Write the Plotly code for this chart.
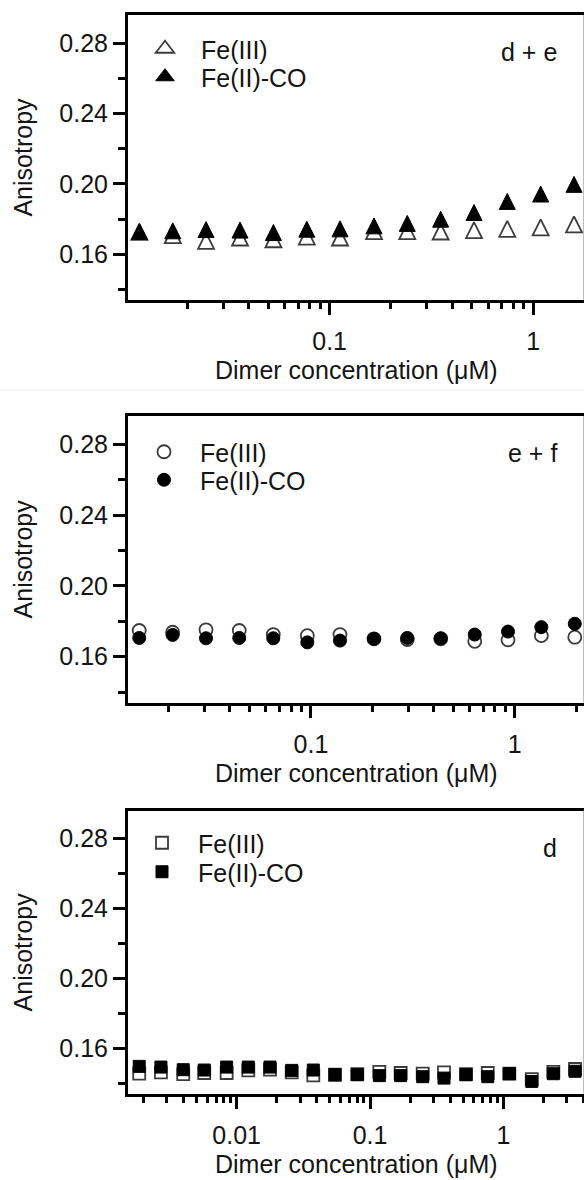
import plotly.graph_objects as go

# ---------------- data ----------------
# Panel 1 (d + e), triangles
x1 = [0.01164, 0.01698, 0.02473, 0.03631, 0.05297, 0.07726, 0.1125, 0.1652,
      0.2406, 0.3509, 0.5117, 0.7451, 1.087, 1.585]
fe3_1 = [0.1712, 0.1693, 0.1661, 0.1680, 0.1670, 0.1685, 0.1680, 0.1716,
         0.1716, 0.1714, 0.1722, 0.1729, 0.1737, 0.1754]
feco_1 = [0.1714, 0.1718, 0.1725, 0.1722, 0.1708, 0.1727, 0.1729, 0.1746,
          0.1760, 0.1784, 0.1822, 0.1885, 0.1927, 0.1982]

# Panel 2 (e + f), circles
x2 = [0.01436, 0.02094, 0.03054, 0.04447, 0.06531, 0.09595, 0.1388, 0.2038,
      0.2970, 0.4335, 0.6365, 0.9269, 1.351, 1.971]
fe3_2 = [0.1748, 0.1738, 0.1752, 0.1748, 0.1725, 0.1719, 0.1725, 0.1701,
         0.1697, 0.1701, 0.1687, 0.1695, 0.1719, 0.1710]
feco_2 = [0.1706, 0.1723, 0.1704, 0.1706, 0.1704, 0.1681, 0.1691, 0.1701,
          0.1706, 0.1704, 0.1725, 0.1742, 0.1767, 0.1786]

# Panel 3 (d), squares
x3 = [0.001858, 0.002704, 0.003975, 0.005710, 0.008411, 0.01222, 0.01778,
      0.02587, 0.03757, 0.05462, 0.08030, 0.1175, 0.1698, 0.2485, 0.3589,
      0.5250, 0.7640, 1.109, 1.634, 2.372, 3.450]
fe3_3 = [0.1456, 0.1464, 0.1454, 0.1460, 0.1460, 0.1475, 0.1479, 0.1464,
         0.1446, 0.1450, 0.1454, 0.1466, 0.1460, 0.1456, 0.1464, 0.1454,
         0.1460, 0.1456, 0.1425, 0.1466, 0.1483]
feco_3 = [0.1498, 0.1494, 0.1479, 0.1477, 0.1494, 0.1494, 0.1494, 0.1475,
          0.1477, 0.1450, 0.1450, 0.1445, 0.1445, 0.1439, 0.1431, 0.1450,
          0.1439, 0.1456, 0.1412, 0.1456, 0.1470]

series_names = ["Fe(III)", "Fe(II)-CO"]
panel_labels = ["d + e", "e + f", "d"]
x_title = "Dimer concentration (μM)"
y_title = "Anisotropy"

# ---------------- layout helpers ----------------
W, H = 584, 1180
FONT = "Liberation Sans, Arial, Helvetica, sans-serif"
TXT = "#141414"
FS = 25
OPEN_LINE = "#3c3c3c"

def py(px):
    return 1 - px / H

panels_px = [(15, 300), (416, 702.7), (810.7, 1094)]
x_left = 128
xranges = [[-1.990, 0.249], [-1.898, 0.340], [-2.815, 0.605]]
yrange = [0.134, 0.296]

fig = go.Figure()

panels = [
    (x1, fe3_1, feco_1, "triangle"),
    (x2, fe3_2, feco_2, "circle"),
    (x3, fe3_3, feco_3, "square"),
]
legend_px = [
    (129, 49, 77),
    (128, 452, 480),
    (126, 843, 872),
]

def style_marker(marker, filled):
    if filled:
        marker.update(color="black", line=dict(color="black", width=1))
    else:
        marker.update(color="white", line=dict(color=OPEN_LINE, width=1.8))
    return marker

for i, (xs, y3, yco, shape) in enumerate(panels):
    xa = "x" if i == 0 else f"x{i+1}"
    ya = "y" if i == 0 else f"y{i+1}"
    for j, (ys, filled) in enumerate([(y3, False), (yco, True)]):
        lg = 2 * i + j + 1
        lgkey = "legend" if lg == 1 else f"legend{lg}"
        if shape == "triangle":
            marker = dict(symbol="arrow-down", angle=180, size=16, standoff=10.7)
        elif shape == "circle":
            marker = dict(symbol="circle", size=13)
        else:
            marker = dict(symbol="square", size=12)
        style_marker(marker, filled)
        fig.add_trace(go.Scatter(
            x=xs, y=ys, mode="markers", name=series_names[j],
            marker=marker, xaxis=xa, yaxis=ya,
            legend=lgkey, showlegend=(shape != "triangle"),
        ))
        if shape == "triangle":
            # legend-only entry on a hidden helper axis pair (no data points)
            lm = style_marker(dict(symbol="triangle-up", size=16), filled)
            fig.add_trace(go.Scatter(
                x=[None], y=[None], mode="markers", name=series_names[j],
                marker=lm, xaxis="x4", yaxis="y4", legend=lgkey, showlegend=True,
            ))

layout = dict(
    width=W, height=H, margin=dict(l=0, r=0, t=0, b=0),
    paper_bgcolor="white", plot_bgcolor="white",
    font=dict(family=FONT, size=FS, color=TXT),
    showlegend=True,
    xaxis4=dict(visible=False, domain=[0, 0.01], anchor="y4"),
    yaxis4=dict(visible=False, domain=[0, 0.01], anchor="x4"),
)

for i in range(3):
    top, bot = panels_px[i]
    xk = "xaxis" if i == 0 else f"xaxis{i+1}"
    yk = "yaxis" if i == 0 else f"yaxis{i+1}"
    ya = "y" if i == 0 else f"y{i+1}"
    xa = "x" if i == 0 else f"x{i+1}"
    layout[xk] = dict(
        type="log", range=xranges[i], domain=[x_left / W, 1.0], anchor=ya,
        showline=True, linewidth=3, linecolor="black", mirror=True,
        ticks="outside", ticklen=12, tickwidth=3, tickcolor="black",
        tickmode="linear", tick0=0, dtick=1, ticklabelstandoff=5,
        minor=dict(ticks="outside", ticklen=6, tickwidth=3, tickcolor="black", dtick="D1"),
        showgrid=False, zeroline=False,
        tickfont=dict(family=FONT, size=FS, color=TXT),
    )
    layout[yk] = dict(
        range=yrange, domain=[py(bot), py(top)], anchor=xa,
        showline=True, linewidth=3, linecolor="black", mirror=False,
        ticks="outside", ticklen=12, tickwidth=3, tickcolor="black",
        tickmode="linear", tick0=0, dtick=0.04, tickformat=".2f",
        minor=dict(ticks="outside", ticklen=7, tickwidth=3, tickcolor="black", dtick=0.02),
        showgrid=False, zeroline=False,
        tickfont=dict(family=FONT, size=FS, color=TXT),
        title=dict(text=y_title, font=dict(family=FONT, size=FS, color=TXT), standoff=20),
    )

for i in range(3):
    lx, yA, yB = legend_px[i]
    for j, yy in enumerate([yA, yB]):
        lg = 2 * i + j + 1
        key = "legend" if lg == 1 else f"legend{lg}"
        layout[key] = dict(
            x=lx / W, y=py(yy), xanchor="left", yanchor="middle",
            bgcolor="rgba(0,0,0,0)", borderwidth=0, itemwidth=62,
            font=dict(family=FONT, size=FS, color=TXT),
        )

annotations = []
for i in range(3):
    top, bot = panels_px[i]
    annotations.append(dict(
        text=panel_labels[i], xref="paper", yref="paper",
        x=559 / W, y=py(top + 37), xanchor="right", yanchor="middle",
        showarrow=False, font=dict(family=FONT, size=FS, color=TXT),
    ))
    # x-axis title, centred under the plotting area
    annotations.append(dict(
        text=x_title, xref="paper", yref="paper",
        x=(x_left / W + 1.0) / 2, y=py(bot + 70), xanchor="center", yanchor="middle",
        showarrow=False, font=dict(family=FONT, size=FS, color=TXT),
    ))
layout["annotations"] = annotations

shapes = []
for i in range(3):
    top, bot = panels_px[i]
    shapes.append(dict(type="line", xref="paper", yref="paper",
                       x0=583.5 / W, x1=583.5 / W, y0=py(bot), y1=py(top),
                       line=dict(color="#bdbdbd", width=1)))
shapes.append(dict(type="line", xref="paper", yref="paper",
                   x0=0, x1=1, y0=py(390), y1=py(390),
                   line=dict(color="#f0f0f0", width=1)))
layout["shapes"] = shapes

fig.update_layout(**layout)
fig.write_html("out.html")
